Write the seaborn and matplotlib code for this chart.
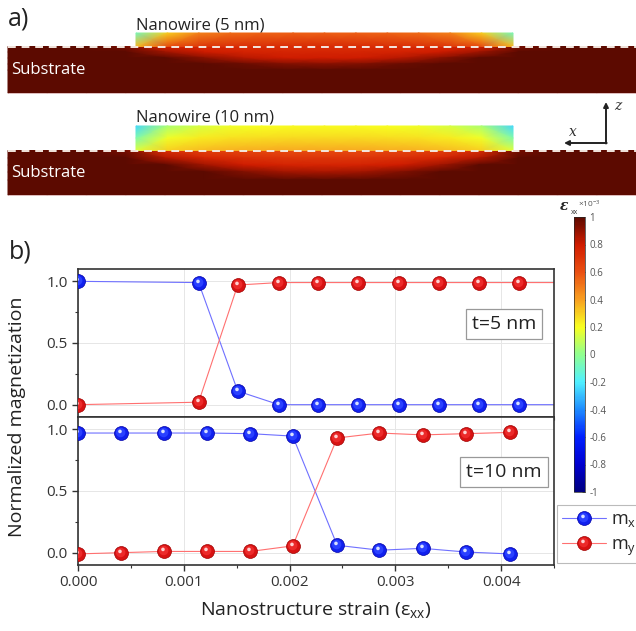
import numpy as np
import pandas as pd
import matplotlib
matplotlib.use("Agg")
import matplotlib.pyplot as plt
import seaborn as sns
from matplotlib.path import Path
from matplotlib.colors import LinearSegmentedColormap, Normalize
from matplotlib.cm import ScalarMappable
from matplotlib.lines import Line2D
from matplotlib.ticker import MultipleLocator

# ---- data: magnetization vs strain ----
x5 = [0.0, 0.00114, 0.00151, 0.0019, 0.00227, 0.00265, 0.00303, 0.00341, 0.00379, 0.00417, 0.0046]
mx5 = [1.0, 0.99, 0.11, 0.0, 0.0, 0.0, 0.0, 0.0, 0.0, 0.0, 0.0]
my5 = [0.0, 0.02, 0.97, 0.99, 0.99, 0.99, 0.99, 0.99, 0.99, 0.99, 0.99]

x10 = [0.0, 0.00041, 0.00081, 0.00122, 0.00163, 0.00203, 0.00245, 0.00285, 0.00326, 0.00367, 0.00408]
mx10 = [0.97, 0.97, 0.97, 0.97, 0.965, 0.945, 0.06, 0.02, 0.035, 0.005, -0.01]
my10 = [-0.01, 0.0, 0.01, 0.01, 0.01, 0.055, 0.93, 0.97, 0.955, 0.965, 0.975]

# ---- strain maps (x1e-3, read by eye), node values, rows top -> bottom ----
wire5 = [[-0.08, 0.3, 0.47, 0.53, 0.55, 0.56, 0.56, 0.56, 0.55, 0.53, 0.47, 0.3, -0.08],
         [0.35, 0.62, 0.7, 0.72, 0.73, 0.74, 0.74, 0.74, 0.73, 0.72, 0.7, 0.62, 0.35]]
sub5 = [[1, 1, 1, 0.95, 0.78, 0.75, 0.74, 0.73, 0.73, 0.73, 0.74, 0.75, 0.78, 0.95, 1, 1, 1],
        [1, 1, 1, 1, 0.88, 0.8, 0.77, 0.76, 0.76, 0.76, 0.77, 0.8, 0.88, 1, 1, 1, 1],
        [1, 1, 1, 1, 1, 0.92, 0.84, 0.8, 0.8, 0.8, 0.84, 0.92, 1, 1, 1, 1, 1],
        [1, 1, 1, 1, 1, 1, 0.97, 0.93, 0.92, 0.93, 0.97, 1, 1, 1, 1, 1, 1],
        [1] * 17,
        [1] * 17]
wire10 = [[-0.25, 0.05, 0.14, 0.18, 0.2, 0.21, 0.21, 0.21, 0.2, 0.18, 0.14, 0.05, -0.25],
          [-0.05, 0.18, 0.24, 0.26, 0.27, 0.28, 0.28, 0.28, 0.27, 0.26, 0.24, 0.18, -0.05],
          [0.15, 0.3, 0.34, 0.36, 0.37, 0.38, 0.38, 0.38, 0.37, 0.36, 0.34, 0.3, 0.15]]
sub10 = [[1, 1, 1, 0.95, 0.72, 0.66, 0.64, 0.62, 0.62, 0.62, 0.64, 0.66, 0.72, 0.95, 1, 1, 1],
         [1, 1, 1, 1, 0.85, 0.76, 0.72, 0.7, 0.7, 0.7, 0.72, 0.76, 0.85, 1, 1, 1, 1],
         [1, 1, 1, 1, 1, 0.88, 0.8, 0.77, 0.76, 0.77, 0.8, 0.88, 1, 1, 1, 1, 1],
         [1, 1, 1, 1, 1, 1, 0.93, 0.88, 0.86, 0.88, 0.93, 1, 1, 1, 1, 1, 1],
         [1] * 17,
         [1] * 17]

cbar_ticks = [-1, -0.8, -0.6, -0.4, -0.2, 0, 0.2, 0.4, 0.6, 0.8, 1]
cbar_labels = ["-1", "-0.8", "-0.6", "-0.4", "-0.2", "0", "0.2", "0.4", "0.6", "0.8", "1"]

sns.set_style("ticks")
plt.rcParams["font.family"] = ["Open Sans", "DejaVu Sans"]
plt.rcParams["mathtext.fontset"] = "custom"
plt.rcParams["mathtext.rm"] = "Open Sans"
plt.rcParams["mathtext.default"] = "regular"
plt.rcParams["axes.unicode_minus"] = False

W, H = 636, 631
fig = plt.figure(figsize=(W / 100, H / 100), dpi=100)


def fx(px):
    return px / W


def fy(py):
    return 1 - py / H


cmap = LinearSegmentedColormap.from_list("strain", [
    "#000080", "#0000d0", "#0020ff", "#1e8cff", "#50f0ff", "#90ff90",
    "#f8ff20", "#f8a020", "#ea5012", "#d01c00", "#5c0a00"])

# ---- panel a) ----
ax_a = fig.add_axes([0, 0, 1, 1])


def strain_map(vals, x0, x1, ys):
    vals = np.array(vals, dtype=float)
    X, Y = np.meshgrid(np.linspace(x0, x1, vals.shape[1]), ys)
    ax_a.pcolormesh(X, Y, vals, shading="gouraud", cmap=cmap, vmin=-1, vmax=1)


# interface / depth rows (pixels) for each structure
strain_map(sub5, 8, W, [46.5, 52, 58, 64, 70, 93])
strain_map(wire5, 136, 513, [33, 46.5])
strain_map(sub10, 8, W, [150.5, 158, 165, 172, 180, 195])
strain_map(wire10, 136, 513, [126, 138, 150.5])

for iface, sbot in [(46.5, 93), (150.5, 195)]:
    ax_a.plot([8, W], [iface, iface], color="#f4e8e0", lw=1.4, ls=(0, (4, 3)))
    ax_a.plot([8, W], [sbot, sbot], color="#e8c8c8", lw=0.6)

ax_a.set_xlim(0, W)
ax_a.set_ylim(H, 0)
ax_a.axis("off")
ax_a.text(136, 29, "Nanowire (5 nm)", fontsize=12, color="#222", va="baseline")
ax_a.text(136, 122, "Nanowire (10 nm)", fontsize=12, color="#222", va="baseline")
ax_a.text(11, 70, "Substrate", fontsize=12, color="white", va="center")
ax_a.text(11, 173, "Substrate", fontsize=12, color="white", va="center")
ax_a.text(8, 19, "a)", fontsize=18, color="#222", va="center")
ax_a.text(9, 252, "b)", fontsize=18, color="#222", va="center")

arrow = dict(arrowstyle="-|>", lw=1.4, color="#222", mutation_scale=7, shrinkA=0, shrinkB=0)
ax_a.annotate("", xy=(606, 102), xytext=(606, 143.5), arrowprops=arrow)
ax_a.annotate("", xy=(564, 143), xytext=(606.7, 143), arrowprops=arrow)
ax_a.text(614, 106, "z", fontsize=10, fontstyle="italic", family="DejaVu Serif", color="#333", va="center")
ax_a.text(569, 132, "x", fontsize=10, fontstyle="italic", family="DejaVu Serif", color="#333", va="center")

# ---- colorbar ----
cax = fig.add_axes([fx(574), fy(492), fx(11), (492 - 217) / H])
cb = fig.colorbar(ScalarMappable(norm=Normalize(-1, 1), cmap=cmap), cax=cax, ticks=cbar_ticks)
cb.ax.set_yticklabels(cbar_labels)
cb.ax.tick_params(labelsize=7, colors="#555", length=2, width=0.6, direction="in", pad=3)
cb.outline.set_linewidth(0.5)
fig.text(fx(560), fy(206), "ε", fontsize=10, fontweight="bold", fontstyle="italic",
         family="DejaVu Serif", color="#222", va="center")
fig.text(fx(570.5), fy(212), "xx", fontsize=5, color="#333", va="center")
fig.text(fx(578), fy(204), "×10$^{-3}$", fontsize=6, color="#555", va="center")

# ---- sphere markers ----
def sphere_path(cx, cy, r):
    c = Path.circle(center=(cx, cy), radius=r)
    verts = np.concatenate([[[-1, -1], [1, 1]], c.vertices])
    codes = np.concatenate([[Path.MOVETO, Path.MOVETO], c.codes])
    return Path(verts, codes)


mid_path = sphere_path(-0.12, 0.14, 0.68)
spot_path = sphere_path(-0.22, 0.3, 0.26)
ms = 10

blue = dict(line="#6f70ff", edge="#0000a8", body="#1020ee", mid="#2a40ff", spot="#d8e0ff")
red = dict(line="#ff7070", edge="#a00000", body="#d81212", mid="#ec2a2a", spot="#ffd0d0")

ax5 = fig.add_axes([fx(78), fy(417), fx(554 - 78), (417 - 269) / H])
ax10 = fig.add_axes([fx(78), fy(565), fx(554 - 78), (565 - 417) / H])

df5 = pd.DataFrame({"strain": x5, "mx": mx5, "my": my5})
df10 = pd.DataFrame({"strain": x10, "mx": mx10, "my": my10})

for ax, df, label in [(ax5, df5, "t=5 nm"), (ax10, df10, "t=10 nm")]:
    for col, c in [("mx", blue), ("my", red)]:
        sns.lineplot(data=df, x="strain", y=col, ax=ax, color=c["line"], lw=0.8,
                     estimator=None, sort=False, zorder=2)
        sns.scatterplot(data=df, x="strain", y=col, ax=ax, s=ms ** 2, color=c["body"],
                        edgecolor=c["edge"], linewidth=0.5, zorder=3)
        ax.plot(df["strain"], df[col], ls="none", marker=mid_path, ms=ms, mfc=c["mid"], mec="none", zorder=4)
        ax.plot(df["strain"], df[col], ls="none", marker=spot_path, ms=ms, mfc=c["spot"], mec="none", zorder=5)
    ax.set_xlim(0, 0.0045)
    ax.set_ylim(-0.1, 1.1)
    ax.set(xlabel="", ylabel="")
    ax.xaxis.set_major_locator(MultipleLocator(0.001))
    ax.xaxis.set_minor_locator(MultipleLocator(0.0005))
    ax.yaxis.set_major_locator(MultipleLocator(0.5))
    ax.yaxis.set_minor_locator(MultipleLocator(0.25))
    ax.set_yticks([0.0, 0.5, 1.0])
    ax.set_yticklabels(["0.0", "0.5", "1.0"])
    ax.grid(True, which="major", color="#e6e6e6", lw=0.7)
    ax.set_axisbelow(True)
    for s in ax.spines.values():
        s.set_color("#333")
        s.set_linewidth(1.2)
    ax.tick_params(which="major", direction="out", length=4, width=1, colors="#333", labelsize=11, labelcolor="#333")
    ax.tick_params(which="minor", direction="out", length=2.5, width=0.8, colors="#333")
    ax.text(0.895, 0.63, label, transform=ax.transAxes, fontsize=14, color="#222", ha="center", va="center",
            bbox=dict(boxstyle="square,pad=0.3", fc="white", ec="#999", lw=0.9), zorder=6)

ax5.tick_params(labelbottom=False)
ax10.set_xticks([0.0, 0.001, 0.002, 0.003, 0.004])
ax10.set_xticklabels(["0.000", "0.001", "0.002", "0.003", "0.004"])

fig.text(fx(17), fy(417), "Normalized magnetization", rotation=90, fontsize=14, color="#222",
         ha="center", va="center")
fig.text(fx(316), fy(610), "Nanostructure strain (ε$_{xx}$)", fontsize=14, color="#222",
         ha="center", va="center")

# ---- legend ----
handles = []
for c in [blue, red]:
    h1 = Line2D([], [], color=c["line"], lw=0.8, marker="o", ms=ms, mfc=c["body"], mec=c["edge"], mew=0.5)
    h2 = Line2D([], [], ls="none", marker=mid_path, ms=ms, mfc=c["mid"], mec="none")
    h3 = Line2D([], [], ls="none", marker=spot_path, ms=ms, mfc=c["spot"], mec="none")
    handles.append((h1, h2, h3))
leg = fig.legend(handles, ["m$_x$", "m$_y$"], loc="upper left", bbox_to_anchor=(fx(557), fy(505)),
                 bbox_transform=fig.transFigure, fontsize=13, frameon=True, fancybox=False,
                 handlelength=2.4, borderpad=0.3, labelspacing=0.35, handletextpad=0.3, borderaxespad=0)
leg.get_frame().set_edgecolor("#aaa")
leg.get_frame().set_linewidth(0.8)

fig.savefig("out.png", dpi=100)
